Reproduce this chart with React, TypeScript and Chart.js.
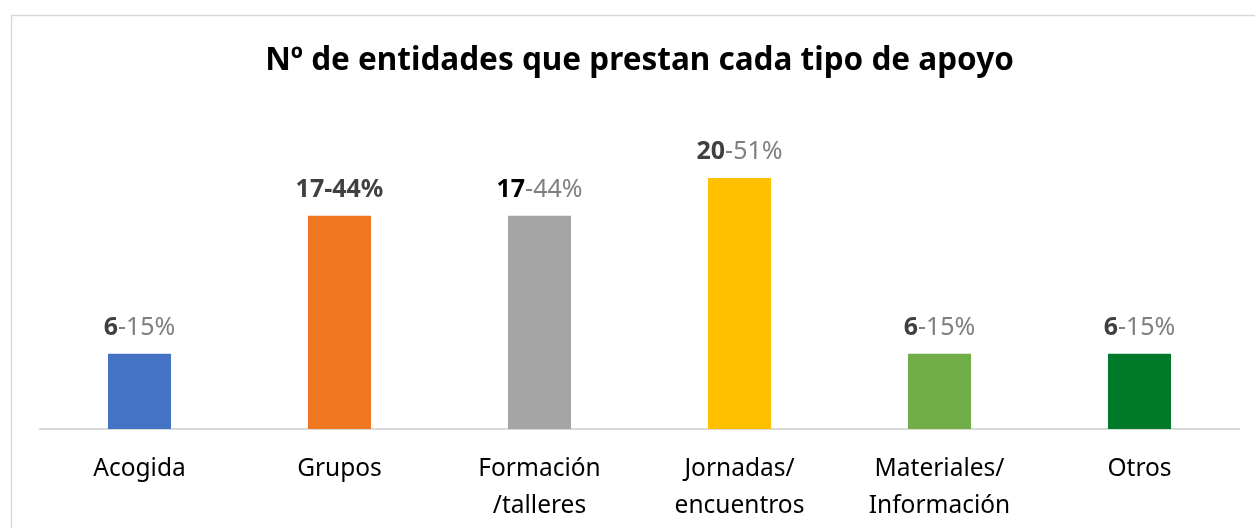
import React, { useEffect, useRef } from "react";
import { Chart, registerables } from "chart.js";

Chart.register(...registerables);

const categories: string[][] = [
  ["Acogida"],
  ["Grupos"],
  ["Formación", "/talleres"],
  ["Jornadas/", "encuentros"],
  ["Materiales/", "Información"],
  ["Otros"],
];
const counts: number[] = [6, 17, 17, 20, 6, 6];
const percents: string[] = ["15%", "44%", "44%", "51%", "15%", "15%"];
const barColors: string[] = ["#4472C4", "#F07823", "#A5A5A5", "#FFC000", "#70AD47", "#007A28"];
const titleText = "Nº de entidades que prestan cada tipo de apoyo";

// label styling per bar (number colour, whether percent is bold/dark)
const numberColors: string[] = ["#404040", "#404040", "#000000", "#404040", "#404040", "#404040"];
const percentBold: boolean[] = [false, true, false, false, false, false];

const FONT = "'Noto Sans', 'Open Sans', sans-serif";

const framePlugin = {
  id: "frame",
  beforeDraw(chart: any) {
    const ctx = chart.ctx;
    ctx.save();
    ctx.strokeStyle = "#d9d9d9";
    ctx.lineWidth = 1.5;
    ctx.strokeRect(11.5, 15.5, 2000, 2000);
    ctx.restore();
  },
};

const labelPlugin = {
  id: "barLabels",
  afterDatasetsDraw(chart: any) {
    const ctx = chart.ctx;
    const meta = chart.getDatasetMeta(0);
    ctx.save();
    ctx.textBaseline = "middle";
    ctx.textAlign = "left";
    meta.data.forEach((bar: any, i: number) => {
      const numText = String(counts[i]);
      const restText = "-" + percents[i];
      const boldFont = `bold 25px ${FONT}`;
      const restFont = percentBold[i] ? boldFont : `25px ${FONT}`;
      ctx.font = boldFont;
      const w1 = ctx.measureText(numText).width;
      ctx.font = restFont;
      const w2 = ctx.measureText(restText).width;
      const x0 = bar.x - (w1 + w2) / 2;
      const y = bar.y - 26;
      ctx.font = boldFont;
      ctx.fillStyle = numberColors[i];
      ctx.fillText(numText, x0, y);
      ctx.font = restFont;
      ctx.fillStyle = percentBold[i] ? "#404040" : "#7f7f7f";
      ctx.fillText(restText, x0 + w1, y);
    });
    ctx.restore();
  },
};

export default function App() {
  const ref = useRef<HTMLCanvasElement | null>(null);
  useEffect(() => {
    if (!ref.current) return;
    const chart = new Chart(ref.current, {
      type: "bar",
      data: {
        labels: categories,
        datasets: [
          {
            data: counts,
            backgroundColor: barColors,
            barPercentage: 0.315,
            categoryPercentage: 1,
          },
        ],
      },
      options: {
        animation: false,
        responsive: false,
        maintainAspectRatio: false,
        layout: { padding: { left: 39.5, right: 15.5, top: 0, bottom: 0 } },
        plugins: {
          legend: { display: false },
          tooltip: { enabled: false },
          title: {
            display: true,
            text: titleText,
            color: "#000000",
            font: { family: FONT, size: 31.5, weight: "bold", lineHeight: 1.2 },
            padding: { top: 42.5, bottom: 47.5 },
          },
        },
        scales: {
          x: {
            grid: { display: false, drawTicks: false },
            border: { display: true, color: "#d9d9d9", width: 2 },
            ticks: {
              color: "#000000",
              font: { family: FONT, size: 24.5, lineHeight: 1.47 },
              padding: 22.5,
              maxRotation: 0,
              autoSkip: false,
            },
            afterFit: (scale: any) => {
              scale.height = 99;
            },
          },
          y: {
            display: false,
            min: 0,
            max: 24,
          },
        },
      },
      plugins: [framePlugin, labelPlugin],
    });
    return () => chart.destroy();
  }, []);
  return (
    <div style={{ position: "fixed", left: 0, top: 0, width: 1255, height: 528, background: "#fff" }}>
      <canvas ref={ref} width={1255} height={528} style={{ display: "block" }} />
    </div>
  );
}
